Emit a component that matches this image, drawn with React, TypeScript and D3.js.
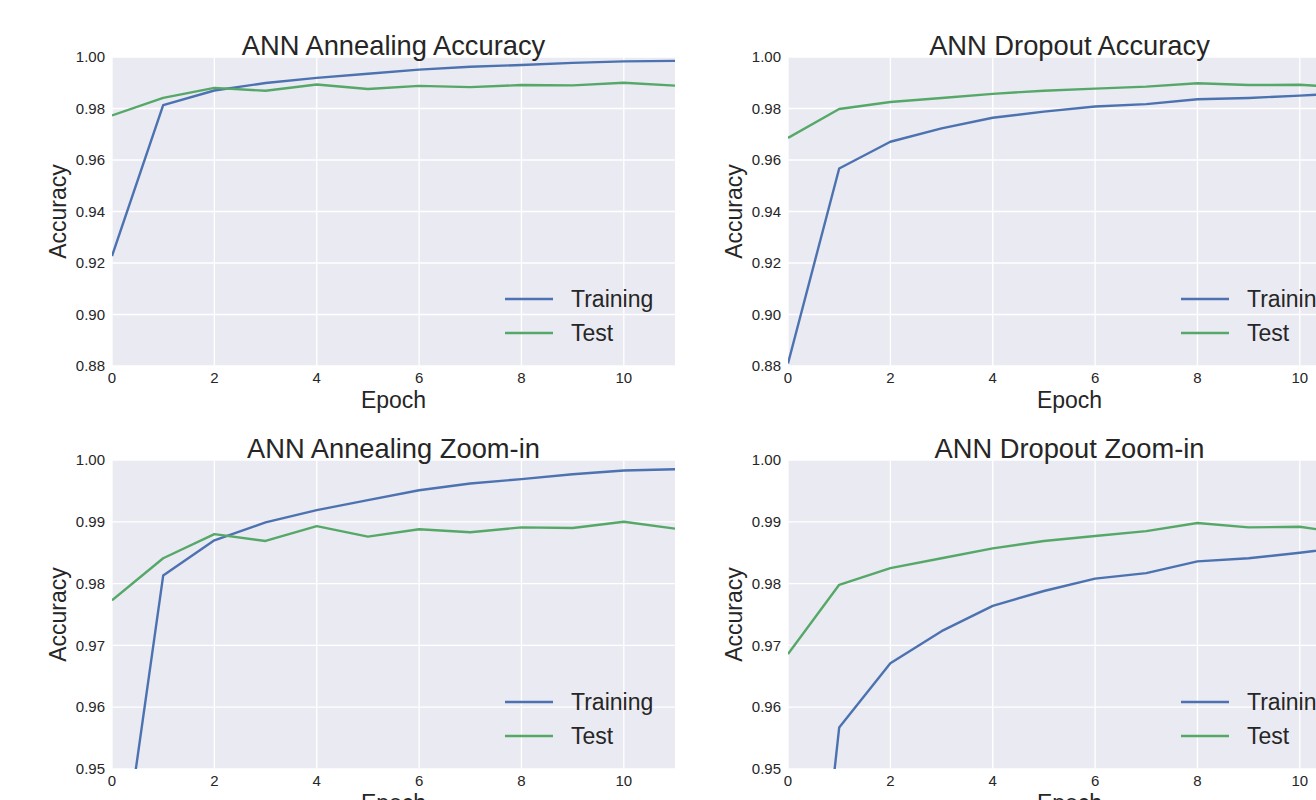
import React from "react";
import * as d3 from "d3";

const epochs = [0, 1, 2, 3, 4, 5, 6, 7, 8, 9, 10, 11];
const annealTrain = [0.9227, 0.9813, 0.987, 0.9899, 0.9919, 0.9935, 0.9951, 0.9962, 0.9969, 0.9977, 0.9983, 0.9985];
const annealTest = [0.9773, 0.9841, 0.988, 0.9869, 0.9893, 0.9876, 0.9888, 0.9883, 0.9891, 0.989, 0.99, 0.9889];
const dropoutTrain = [0.881, 0.9567, 0.9671, 0.9723, 0.9764, 0.9788, 0.9808, 0.9817, 0.9836, 0.9841, 0.985, 0.986];
const dropoutTest = [0.9686, 0.9798, 0.9825, 0.9841, 0.9857, 0.9869, 0.9877, 0.9885, 0.9898, 0.9891, 0.9892, 0.988];
const xTicks = [0, 2, 4, 6, 8, 10];
const fullTicks = [0.88, 0.9, 0.92, 0.94, 0.96, 0.98, 1.0];
const zoomTicks = [0.95, 0.96, 0.97, 0.98, 0.99, 1.0];
const seriesNames = ["Training", "Test"];
const colors = ["#4C72B0", "#55A868"];

const FONT = "'Liberation Sans', Arial, sans-serif";
const TEXT = "#262626";

type PanelProps = {
  id: string;
  left: number;
  top: number;
  title: string;
  train: number[];
  test: number[];
  yDomain: [number, number];
  yTicks: number[];
};

const W = 563;
const H = 309;

function Panel({ id, left, top, title, train, test, yDomain, yTicks }: PanelProps) {
  const x = d3.scaleLinear().domain([0, 11]).range([0, W]);
  const y = d3.scaleLinear().domain(yDomain).range([H, 0]);
  const line = d3
    .line<number>()
    .x((_, i) => x(epochs[i]))
    .y((d) => y(d));
  const fmt = d3.format(".2f");
  return (
    <g transform={`translate(${left},${top})`}>
      <defs>
        <clipPath id={id}>
          <rect x={0} y={0} width={W} height={H} />
        </clipPath>
      </defs>
      <rect x={0} y={0} width={W} height={H} fill="#EAEAF2" />
      {xTicks.map((t) => (
        <line key={"gx" + t} x1={x(t)} x2={x(t)} y1={0} y2={H} stroke="#fff" strokeWidth={1.3} />
      ))}
      {yTicks.map((t) => (
        <line key={"gy" + t} x1={0} x2={W} y1={y(t)} y2={y(t)} stroke="#fff" strokeWidth={1.3} />
      ))}
      <g clipPath={`url(#${id})`}>
        <path d={line(train) || ""} fill="none" stroke={colors[0]} strokeWidth={2.4} strokeLinejoin="round" />
        <path d={line(test) || ""} fill="none" stroke={colors[1]} strokeWidth={2.4} strokeLinejoin="round" />
      </g>
      {xTicks.map((t) => (
        <text key={"tx" + t} x={x(t)} y={H + 17} textAnchor="middle" fontSize={15} fill={TEXT} fontFamily={FONT}>
          {t}
        </text>
      ))}
      {yTicks.map((t) => (
        <text key={"ty" + t} x={-7} y={y(t)} dy="0.35em" textAnchor="end" fontSize={15} fill={TEXT} fontFamily={FONT}>
          {fmt(t)}
        </text>
      ))}
      <text x={W / 2} y={-2.5} textAnchor="middle" fontSize={27.3} fill={TEXT} fontFamily={FONT}>
        {title}
      </text>
      <text x={W / 2} y={H + 42} textAnchor="middle" fontSize={23} fill={TEXT} fontFamily={FONT}>
        Epoch
      </text>
      <text
        transform={`translate(${-46},${H / 2}) rotate(-90)`}
        textAnchor="middle"
        fontSize={23}
        fill={TEXT}
        fontFamily={FONT}
      >
        Accuracy
      </text>
      {seriesNames.map((n, i) => (
        <g key={n} transform={`translate(0,${242 + i * 34})`}>
          <line x1={393} x2={441} y1={0} y2={0} stroke={colors[i]} strokeWidth={2.4} />
          <text x={459} y={0} dy="0.35em" fontSize={23} fill={TEXT} fontFamily={FONT}>
            {n}
          </text>
        </g>
      ))}
    </g>
  );
}

export default function App() {
  return (
    <svg
      width={1316}
      height={800}
      style={{ position: "absolute", left: 0, top: 0, background: "#fff" }}
    >
      <rect width={1316} height={800} fill="#fff" />
      <Panel id="c1" left={112} top={57} title="ANN Annealing Accuracy" train={annealTrain} test={annealTest} yDomain={[0.88, 1.0]} yTicks={fullTicks} />
      <Panel id="c2" left={788} top={57} title="ANN Dropout Accuracy" train={dropoutTrain} test={dropoutTest} yDomain={[0.88, 1.0]} yTicks={fullTicks} />
      <Panel id="c3" left={112} top={460} title="ANN Annealing Zoom-in" train={annealTrain} test={annealTest} yDomain={[0.95, 1.0]} yTicks={zoomTicks} />
      <Panel id="c4" left={788} top={460} title="ANN Dropout Zoom-in" train={dropoutTrain} test={dropoutTest} yDomain={[0.95, 1.0]} yTicks={zoomTicks} />
    </svg>
  );
}
